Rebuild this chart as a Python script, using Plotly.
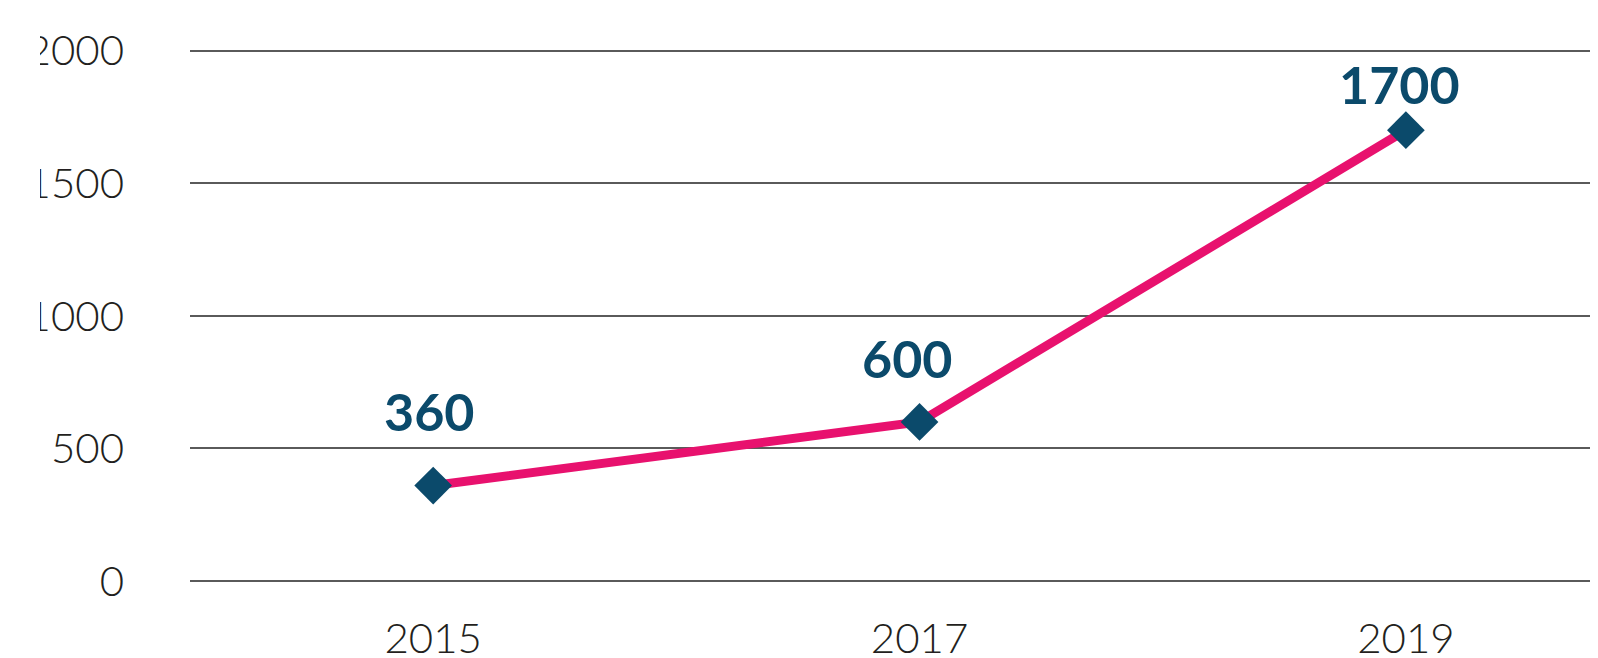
import plotly.graph_objects as go

years = [2015, 2017, 2019]
values = [360, 600, 1700]
value_labels = ["360", "600", "1700"]
y_ticks = [0, 500, 1000, 1500, 2000]
y_tick_labels = ["0", "500", "1000", "1500", "2000"]

# per-label offsets (style only)
label_xshift = [-4, -13, -6]
label_yshift = [75, 64, 46]

LINE = "#E8116E"
MARK = "#0B4A6B"
GRID = "#5a5a5a"
TXT = "#231F20"

fig = go.Figure()
fig.add_trace(go.Scatter(
    x=years, y=values, mode="lines+markers",
    line=dict(color=LINE, width=9),
    marker=dict(symbol="diamond", size=29, color=MARK),
    showlegend=False, hoverinfo="skip",
))

for x, y, t, xs, ys in zip(years, values, value_labels, label_xshift, label_yshift):
    fig.add_annotation(x=x, y=y, text=t, showarrow=False,
                       xshift=xs, yshift=ys,
                       font=dict(family="Lato", size=52, color=MARK, weight="bold"))

# mask reproducing the clipped left edge of the y tick labels
fig.add_shape(type="rect", xref="paper", yref="paper", xsizemode="pixel",
              xanchor=0, x0=-200, x1=-150, y0=-0.3, y1=1.3,
              fillcolor="white", line=dict(width=0), layer="above")

fig.update_xaxes(
    range=[2014, 2019.79], tickvals=years, ticktext=[str(y) for y in years],
    showgrid=False, zeroline=False, showline=False, ticks="",
    tickfont=dict(family="Lato", size=42, color=TXT, weight=300),
    ticklabelstandoff=29, fixedrange=True, automargin=False,
)
fig.update_yaxes(
    range=[0, 2010], tickvals=y_ticks, ticktext=y_tick_labels,
    showgrid=True, gridcolor=GRID, gridwidth=1.5,
    zeroline=True, zerolinecolor=GRID, zerolinewidth=1.5,
    showline=False, ticks="",
    tickfont=dict(family="Lato", size=42, color=TXT, weight=300),
    ticklabelstandoff=65, fixedrange=True, automargin=False,
)
fig.update_layout(
    width=1590, height=650,
    margin=dict(l=182, r=0, t=40, b=77, autoexpand=False),
    paper_bgcolor="white", plot_bgcolor="white",
)
fig.write_html("out.html")
